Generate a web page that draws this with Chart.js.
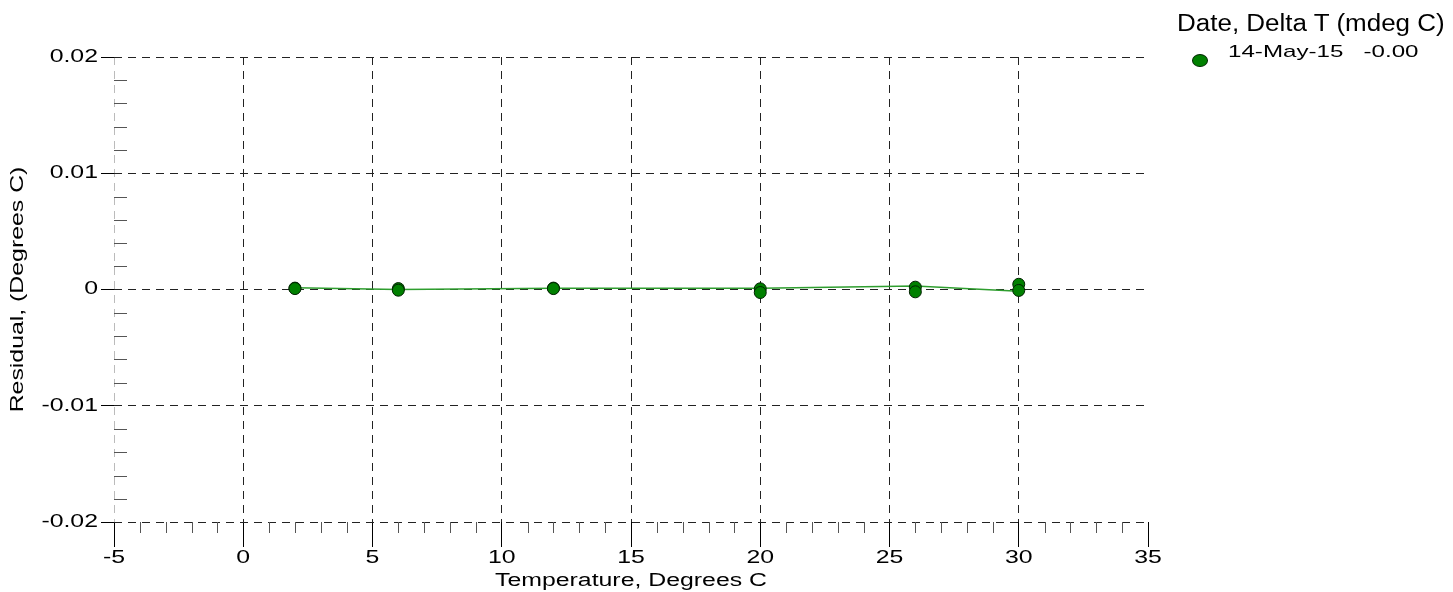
<!DOCTYPE html>
<html><head><meta charset="utf-8">
<script src="https://cdn.jsdelivr.net/npm/chart.js@4"></script>
<style>
html,body{margin:0;padding:0;background:#fff;}
#wrap{position:relative;width:1453px;height:592px;overflow:hidden;}
canvas{position:absolute;left:0;top:0;}
.lg{position:absolute;font-family:"Liberation Sans",Arial,sans-serif;color:#000;white-space:pre;line-height:1;transform-origin:0 0;}
</style></head><body>
<div id="wrap">
<canvas id="c" width="1453" height="592"></canvas>
<div class="lg" id="lgTitle" style="left:1177px;top:12px;font-size:23px;transform:scaleX(1.13)"></div>
<div id="lgMark" style="position:absolute;left:1192px;top:54px;width:14px;height:11px;border-radius:50%;background:#008000;border:1px solid #002a00;"></div>
<div class="lg" id="lgItem" style="left:1228px;top:43px;font-size:17px;transform:scaleX(1.42)"></div>
</div>
<script>
// ---- data ----
const legendTitle = 'Date, Delta T (mdeg C)';
const seriesName = '14-May-15';
const seriesDelta = '-0.00';
const xTitle = 'Temperature, Degrees C';
const yTitle = 'Residual, (Degrees C)';
const temperatures = [2, 2, 6, 6, 12, 12, 20, 20, 26, 26, 30, 30];
const residuals = [0.00012, 0.00008, 0.00008, -0.00006, 0.00012, 0.00008, 0.00006, -0.00026, 0.0002, -0.0002, 0.00045, -0.00008];
const fitTemperatures = [2, 6, 12, 20, 26, 30];
const fitResiduals = [0.00015, 0.0, 0.0001, 0.0001, 0.0003, -0.00015];
const xTickValues = [-5, 0, 5, 10, 15, 20, 25, 30, 35];
const yTickValues = [-0.02, -0.01, 0, 0.01, 0.02];

document.getElementById('lgTitle').textContent = legendTitle;
document.getElementById('lgItem').textContent = seriesName + '   ' + seriesDelta;

const FONT = '"Liberation Sans", Arial, sans-serif';
const SX = 1.38;

const canvas = document.getElementById('c');
const c2d = canvas.getContext('2d');
// horizontally widened text, as in the reference
c2d.fillText = function (t, x, y) {
  this.save();
  this.translate(x, y);
  this.scale(SX, 1);
  CanvasRenderingContext2D.prototype.fillText.call(this, t, 0, 0);
  this.restore();
};

const minorTicks = {
  id: 'minorTicks',
  afterDraw(chart) {
    const { ctx, chartArea: a, scales: { x, y } } = chart;
    ctx.save();
    ctx.strokeStyle = '#555';
    ctx.lineWidth = 1;
    ctx.setLineDash([]);
    ctx.beginPath();
    for (let i = 1; i < 40; i++) {
      if (i % 5 === 0) continue;
      const v = x.min + i;
      const px = Math.round(x.getPixelForValue(v)) + 0.5;
      ctx.moveTo(px, a.bottom);
      ctx.lineTo(px, a.bottom + 11);
    }
    for (let i = 1; i < 20; i++) {
      if (i % 5 === 0) continue;
      const v = y.min + i * 0.002;
      const py = Math.round(y.getPixelForValue(v)) + 0.5;
      ctx.moveTo(a.left, py);
      ctx.lineTo(a.left + 13, py);
    }
    ctx.stroke();
    ctx.restore();
  }
};

new Chart(c2d, {
  type: 'scatter',
  data: {
    datasets: [
      {
        label: 'fit',
        data: fitTemperatures.map((t, i) => ({ x: t, y: fitResiduals[i] })),
        showLine: true,
        borderColor: '#2f9e2f',
        borderWidth: 1.5,
        pointRadius: 0,
        order: 2
      },
      {
        label: seriesName,
        data: temperatures.map((t, i) => ({ x: t, y: residuals[i] })),
        showLine: false,
        pointRadius: 6,
        pointBackgroundColor: '#008000',
        pointBorderColor: '#002200',
        pointBorderWidth: 1,
        order: 1
      }
    ]
  },
  options: {
    responsive: false,
    animation: false,
    events: [],
    layout: { padding: { top: 57, right: 305, left: 0, bottom: 0 } },
    plugins: { legend: { display: false }, tooltip: { enabled: false } },
    scales: {
      x: {
        type: 'linear',
        min: -5, max: 35,
        afterBuildTicks: s => { s.ticks = xTickValues.map(v => ({ value: v })); },
        afterFit: s => { s.height = 70; },
        ticks: { font: { family: FONT, size: 18 }, color: '#000', padding: 0, maxRotation: 0, autoSkip: false, callback: v => String(v) },
        grid: {
          color: ctx => {
            const v = ctx.tick && ctx.tick.value;
            if (v === -5) return '#bbb';
            if (v === 35) return 'rgba(0,0,0,0)';
            return '#222';
          },
          tickColor: '#000', tickLength: 25, lineWidth: 1
        },
        border: { display: false, dash: [8, 6] },
        title: { display: true, text: xTitle, color: '#000', font: { family: FONT, size: 18 }, padding: { top: 0, bottom: 0 } }
      },
      y: {
        type: 'linear',
        min: -0.02, max: 0.02,
        afterBuildTicks: s => { s.ticks = yTickValues.map(v => ({ value: v })); },
        afterFit: s => { s.width = 114; },
        ticks: { font: { family: FONT, size: 18 }, color: '#000', padding: 3, callback: v => String(v) },
        grid: { color: '#222', tickColor: '#000', tickLength: 13, lineWidth: 1 },
        border: { display: false, dash: [8, 6] },
        title: { display: true, text: yTitle, color: '#000', font: { family: FONT, size: 18 }, padding: { top: 7, bottom: 0 } }
      }
    }
  },
  plugins: [minorTicks]
});
</script>
</body></html>
